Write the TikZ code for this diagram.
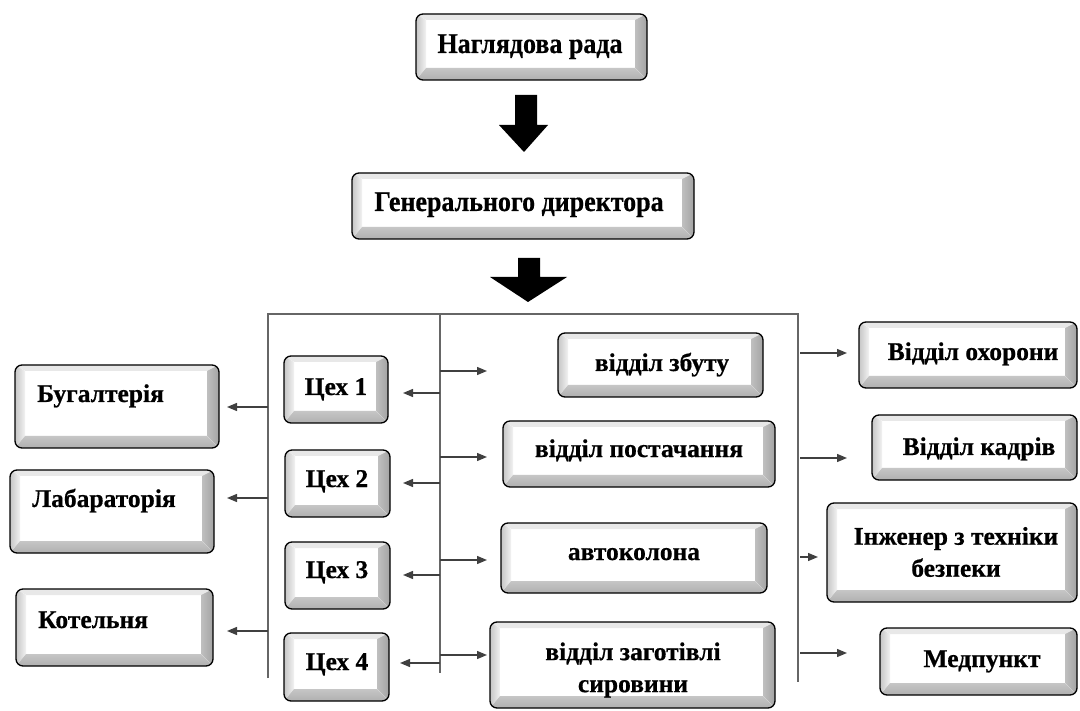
\documentclass[tikz,border=0pt]{standalone}
\usepackage{fontspec}
\setmainfont{Liberation Serif}[BoldFeatures={FakeBold=0.6}]
\usetikzlibrary{arrows.meta,calc,fit}
\begin{document}
\begin{tikzpicture}[x=1pt,y=-1pt,
  bev/.style={draw=black, line width=1.3pt, rounded corners=7pt, fill=white, inner sep=0pt,
    path picture={
      \path (path picture bounding box.north west) coordinate (pnw)
            (path picture bounding box.north east) coordinate (pne)
            (path picture bounding box.south west) coordinate (psw)
            (path picture bounding box.south east) coordinate (pse);
      \fill[sharp corners, gray!18] (pnw) -- (pne) -- ([shift={(-12pt,-6pt)}]pne) -- ([shift={(10pt,-6pt)}]pnw) -- cycle;
      \fill[sharp corners, left color=gray!45, right color=gray!10] (pnw) -- ([shift={(10pt,-6pt)}]pnw) -- ([shift={(10pt,12pt)}]psw) -- (psw) -- cycle;
      \fill[sharp corners, top color=gray!45, bottom color=gray!62] (psw) -- ([shift={(10pt,12pt)}]psw) -- ([shift={(-12pt,12pt)}]pse) -- (pse) -- cycle;
      \fill[sharp corners, left color=gray!50, right color=gray!72] (pne) -- (pse) -- ([shift={(-12pt,12pt)}]pse) -- ([shift={(-12pt,-6pt)}]pne) -- cycle;
    }},
  big/.style={font=\fontsize{26}{30}\selectfont\bfseries, inner sep=0pt, anchor=base, yscale=1.1, transform shape},
  lbl/.style={font=\fontsize{25.5}{32}\selectfont\bfseries, inner sep=0pt, anchor=base, align=center},
  bus/.style={draw=black!60, line width=1.5pt},
  arr/.style={draw=black!75, line width=1.3pt, -{Triangle[length=10pt,width=8pt]}},
  blk/.style={fill=black}
]
\useasboundingbox[fill=white] (0,0) rectangle (1080,711);

% boxes
\node[bev, fit={(416,14) (647,80)}] (nrada) {};
\node[bev, fit={(352,173) (694,239)}] (gendir) {};
\node[bev, fit={(15,365) (219,448)}] (buh) {};
\node[bev, fit={(10,470) (214,553)}] (lab) {};
\node[bev, fit={(16,589) (213,666)}] (kot) {};
\node[bev, fit={(284,356) (388,423)}] (c1) {};
\node[bev, fit={(285,450) (390,517)}] (c2) {};
\node[bev, fit={(285,542) (390,609)}] (c3) {};
\node[bev, fit={(284,633) (389,701)}] (c4) {};
\node[bev, fit={(558,333) (763,397)}] (zbut) {};
\node[bev, fit={(503,421) (775,487)}] (post) {};
\node[bev, fit={(501,523) (767,593)}] (avto) {};
\node[bev, fit={(490,622) (775,708)}] (zag) {};
\node[bev, fit={(859,322) (1077,388)}] (okh) {};
\node[bev, fit={(872,415) (1077,480)}] (kadr) {};
\node[bev, fit={(827,503) (1077,602)}] (inzh) {};
\node[bev, fit={(880,628) (1077,695)}] (med) {};

% texts
\node[big] (tnrada) at (530,53) {Наглядова рада};
\node[big] (tgendir) at (519,211) {Генерального директора};
\node[lbl, anchor=base west] (tbuh) at (37,402) {Бугалтерія};
\node[lbl, anchor=base west] (tlab) at (32,507) {Лабараторія};
\node[lbl, anchor=base west] (tkot) at (38,628) {Котельня};
\node[lbl] (tc1) at (336,395) {Цех 1};
\node[lbl] (tc2) at (337,487) {Цех 2};
\node[lbl] (tc3) at (337,578) {Цех 3};
\node[lbl] (tc4) at (337,670) {Цех 4};
\node[lbl] (tzbut) at (662,371) {відділ збуту};
\node[lbl] (tpost) at (639,457) {відділ постачання};
\node[lbl] (tavto) at (634,560) {автоколона};
\node[lbl, anchor=center] (tzag) at (633,670) {відділ заготівлі\\сировини};
\node[lbl] (tokh) at (973,360) {Відділ охорони};
\node[lbl] (tkadr) at (979,455) {Відділ кадрів};
\node[lbl, anchor=center] (tinzh) at (956,552) {Інженер з техніки\\безпеки};
\node[lbl] (tmed) at (982,667) {Медпункт};

% block arrows
\fill[blk] (515,95) -- (537,95) -- (537,125) -- (548,125) -- (524,152) -- (499,125) -- (515,125) -- cycle;
\fill[blk] (518,258) -- (540,258) -- (540,277) -- (567,277) -- (528,302) -- (490,277) -- (518,277) -- cycle;

% bus lines
\coordinate (b1t) at (268,314); \coordinate (b1b) at (268,678);
\coordinate (b2t) at (440,314); \coordinate (b2b) at (440,673);
\coordinate (b3t) at (798,314); \coordinate (b3b) at (798,682);
\draw[bus] (b1b) -- (b1t) -- (b3t) -- (b3b);
\draw[bus] (b2t) -- (b2b);

% arrow tips
\coordinate (tpbuh) at (227,407);
\coordinate (tplab) at (227,498);
\coordinate (tpkot) at (227,631);
\coordinate (tpc1) at (403,393);
\coordinate (tpc2) at (403,483);
\coordinate (tpc3) at (403,575);
\coordinate (tpc4) at (400,663);
\coordinate (tpzbut) at (487,371);
\coordinate (tppost) at (487,457);
\coordinate (tpavto) at (487,560);
\coordinate (tpzag) at (487,655);
\coordinate (tpokh) at (847,353);
\coordinate (tpkadr) at (847,458);
\coordinate (tpinzh) at (818,557);
\coordinate (tpmed) at (847,653);

\foreach \t in {tpbuh,tplab,tpkot} \draw[arr] (b1t |- \t) -- (\t);
\foreach \t in {tpc1,tpc2,tpc3,tpc4,tpzbut,tppost,tpavto,tpzag} \draw[arr] (b2t |- \t) -- (\t);
\foreach \t in {tpokh,tpkadr,tpinzh,tpmed} \draw[arr] ([xshift=2pt]b3t |- \t) -- (\t);
\end{tikzpicture}
\end{document}
